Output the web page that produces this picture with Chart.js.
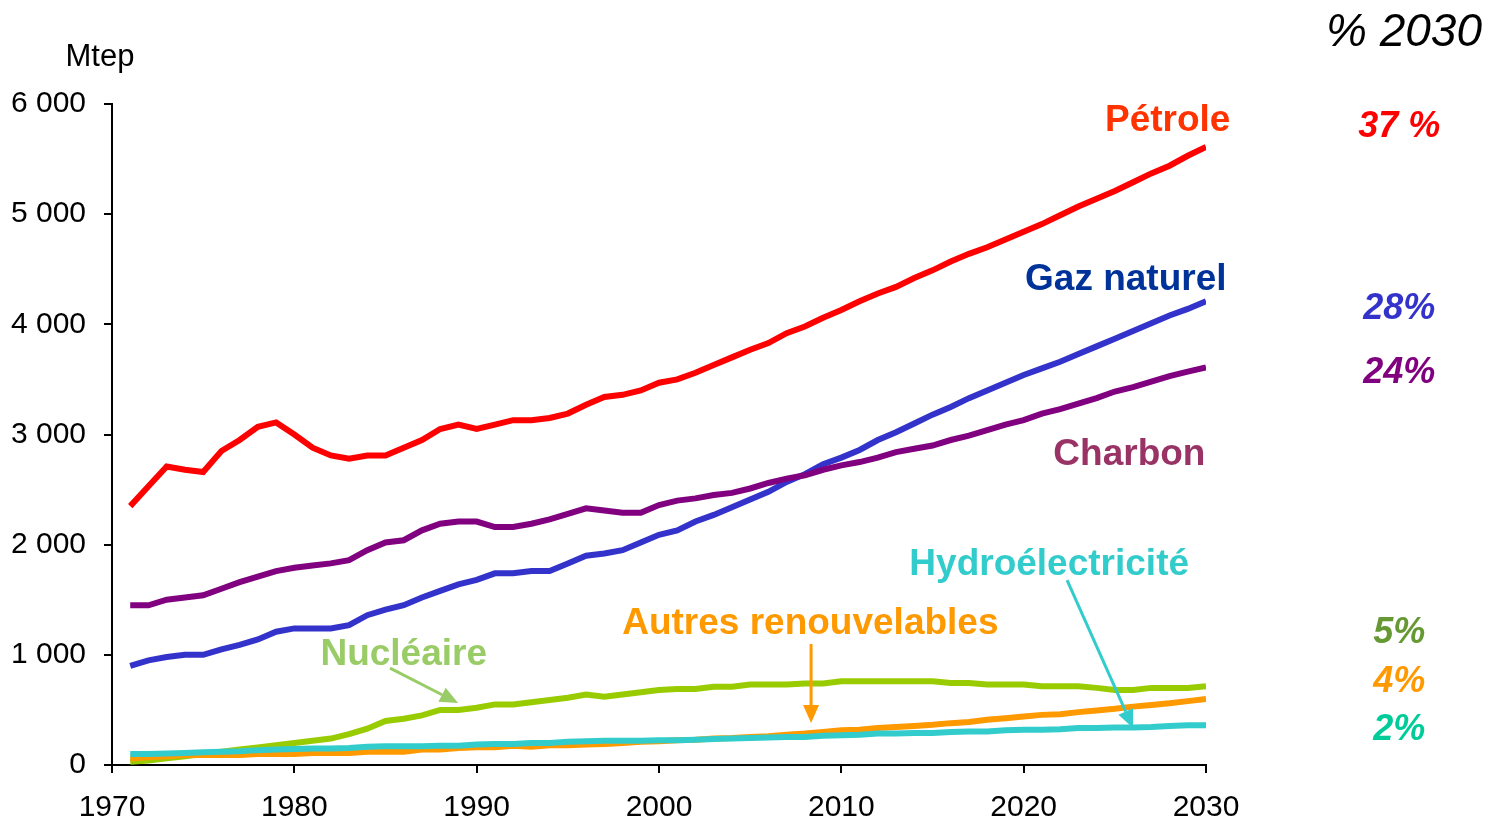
<!DOCTYPE html>
<html>
<head>
<meta charset="utf-8">
<script src="https://cdn.jsdelivr.net/npm/chart.js@4/dist/chart.umd.min.js"></script>
<style>
  body { margin: 0; background: #fff; }
  canvas { display: block; }
</style>
</head>
<body>
<canvas id="energyChart" width="1487" height="822"></canvas>
<script>
// Données (Mtep), 1971-2030
var years = [];
for (var yr = 1971; yr <= 2030; yr++) years.push(yr);

var petrole = [2350, 2530, 2710, 2680, 2660, 2850, 2950, 3070, 3110, 3000,
  2880, 2810, 2780, 2810, 2810, 2880, 2950, 3050, 3090, 3050,
  3090, 3130, 3130, 3150, 3190, 3270, 3340, 3360, 3400, 3470,
  3500, 3560, 3630, 3700, 3770, 3830, 3920, 3980, 4060, 4130,
  4210, 4280, 4340, 4420, 4490, 4570, 4640, 4700, 4770, 4840,
  4910, 4990, 5070, 5140, 5210, 5290, 5370, 5440, 5530, 5610];

var gaz = [900, 950, 980, 1000, 1000, 1050, 1090, 1140, 1210, 1240,
  1240, 1240, 1270, 1360, 1410, 1450, 1520, 1580, 1640, 1680,
  1740, 1740, 1760, 1760, 1830, 1900, 1920, 1950, 2020, 2090,
  2130, 2210, 2270, 2340, 2410, 2480, 2570, 2640, 2730, 2790,
  2860, 2950, 3020, 3100, 3180, 3250, 3330, 3400, 3470, 3540,
  3600, 3660, 3730, 3800, 3870, 3940, 4010, 4080, 4140, 4210];

var charbon = [1450, 1450, 1500, 1520, 1540, 1600, 1660, 1710, 1760, 1790,
  1810, 1830, 1860, 1950, 2020, 2040, 2130, 2190, 2210, 2210,
  2160, 2160, 2190, 2230, 2280, 2330, 2310, 2290, 2290, 2360,
  2400, 2420, 2450, 2470, 2510, 2560, 2600, 2630, 2680, 2720,
  2750, 2790, 2840, 2870, 2900, 2950, 2990, 3040, 3090, 3130,
  3190, 3230, 3280, 3330, 3390, 3430, 3480, 3530, 3570, 3610];

var nucleaire = [30, 40, 60, 80, 100, 120, 140, 160, 180, 200,
  220, 240, 280, 330, 400, 420, 450, 500, 500, 520,
  550, 550, 570, 590, 610, 640, 620, 640, 660, 680,
  690, 690, 710, 710, 730, 730, 730, 740, 740, 760,
  760, 760, 760, 760, 760, 745, 745, 730, 730, 730,
  715, 715, 715, 700, 680, 680, 700, 700, 700, 715];

var hydro = [100, 100, 105, 110, 115, 120, 125, 135, 140, 145,
  150, 150, 155, 165, 170, 170, 170, 175, 175, 185,
  190, 190, 200, 200, 210, 215, 220, 220, 220, 225,
  225, 230, 235, 240, 245, 250, 255, 255, 265, 270,
  275, 285, 285, 290, 290, 300, 305, 305, 315, 320,
  320, 325, 335, 335, 340, 340, 345, 355, 360, 360];

var autres = [60, 70, 80, 90, 90, 90, 90, 100, 100, 100,
  110, 110, 110, 120, 120, 120, 140, 140, 155, 160,
  160, 175, 165, 180, 180, 185, 190, 200, 210, 215,
  225, 230, 240, 245, 255, 260, 275, 285, 300, 315,
  320, 335, 345, 355, 365, 380, 390, 410, 425, 440,
  455, 460, 480, 495, 510, 530, 545, 560, 580, 600];

var xTicks = [1970, 1980, 1990, 2000, 2010, 2020, 2030];
var yTicks = [0, 1000, 2000, 3000, 4000, 5000, 6000];

// Parts en 2030
var parts = ['37 %', '28%', '24%', '5%', '4%', '2%'];
var partsY = [5790, 4140, 3560, 1200, 756, 320];

function serie(vals) {
  return vals.map(function(v, i) { return { x: years[i], y: v }; });
}

function fmtMtep(v) {
  if (v === 0) return '0';
  return (v / 1000) + ' 000';
}

// Étiquettes, pourcentages et flèches
var annotations = {
  id: 'annotations',
  afterDraw: function(chart) {
    var c = chart.ctx;
    var xs = chart.scales.x, ys = chart.scales.y;
    var px = function(v) { return xs.getPixelForValue(v); };
    var py = function(v) { return ys.getPixelForValue(v); };

    c.save();
    c.textAlign = 'center';
    c.textBaseline = 'middle';

    var labels = [
      ['Pétrole', 2027.9, 5850, '#FF3300'],
      ['Gaz naturel', 2025.6, 4400, '#003399'],
      ['Charbon', 2025.8, 2812, '#993366'],
      ['Hydroélectricité', 2021.4, 1814, '#33CCCC'],
      ['Autres renouvelables', 2008.3, 1278, '#FF9900'],
      ['Nucléaire', 1986.0, 997, '#99CC66']
    ];
    c.font = 'bold 37px "Liberation Sans", Arial, sans-serif';
    labels.forEach(function(l) {
      c.fillStyle = l[3];
      c.fillText(l[0], px(l[1]), py(l[2]));
    });

    var partColors = ['#FF0000', '#3333CC', '#800080', '#669933', '#FF9900', '#00CC99'];
    c.font = 'italic bold 36px "Liberation Sans", Arial, sans-serif';
    parts.forEach(function(p, i) {
      c.fillStyle = partColors[i];
      c.fillText(p, px(2040.6), py(partsY[i]));
    });

    c.fillStyle = '#000';
    c.font = 'italic 46px "Liberation Sans", Arial, sans-serif';
    c.fillText('% 2030', 1404, 33);
    c.font = '31px "Liberation Sans", Arial, sans-serif';
    c.fillText('Mtep', 100, 57);

    function arrow(x1, y1, x2, y2, color) {
      var a = px(x1), b = py(y1), d = px(x2), e = py(y2);
      var ang = Math.atan2(e - b, d - a);
      var head = 18, half = 8;
      var bx = d - head * Math.cos(ang), by = e - head * Math.sin(ang);
      c.strokeStyle = color;
      c.fillStyle = color;
      c.lineWidth = 3;
      c.beginPath();
      c.moveTo(a, b);
      c.lineTo(bx, by);
      c.stroke();
      c.beginPath();
      c.moveTo(d, e);
      c.lineTo(bx + half * Math.sin(ang), by - half * Math.cos(ang));
      c.lineTo(bx - half * Math.sin(ang), by + half * Math.cos(ang));
      c.closePath();
      c.fill();
    }
    arrow(1985.25, 880, 1988.98, 563, '#99CC66');
    arrow(2008.34, 1098, 2008.34, 381, '#FF9900');
    arrow(2022.38, 1679, 2026.0, 336, '#33CCCC');
    c.restore();
  }
};

function ds(label, vals, color) {
  return {
    label: label,
    data: serie(vals),
    borderColor: color,
    backgroundColor: color,
    borderWidth: 6,
    pointRadius: 0,
    tension: 0,
    fill: false
  };
}

var ctx = document.getElementById('energyChart').getContext('2d');
var chart = new Chart(ctx, {
  type: 'line',
  data: {
    datasets: [
      ds('Hydroélectricité', hydro, '#33CCCC'),
      ds('Autres renouvelables', autres, '#FF9900'),
      ds('Nucléaire', nucleaire, '#99CC00'),
      ds('Charbon', charbon, '#800080'),
      ds('Gaz naturel', gaz, '#3333CC'),
      ds('Pétrole', petrole, '#FF0000')
    ]
  },
  options: {
    responsive: false,
    animation: false,
    layout: { padding: { left: 0, right: 281, top: 104, bottom: 0 } },
    plugins: {
      legend: { display: false },
      tooltip: { enabled: false }
    },
    scales: {
      x: {
        type: 'linear',
        min: 1970,
        max: 2030,
        afterBuildTicks: function(s) { s.ticks = xTicks.map(function(v) { return { value: v }; }); },
        afterFit: function(s) { s.height = 57; },
        grid: { drawOnChartArea: false, color: '#000', tickLength: 8, lineWidth: 2 },
        border: { color: '#000', width: 2 },
        ticks: {
          color: '#000',
          padding: 17,
          maxRotation: 0,
          font: { family: '"Liberation Sans", Arial, sans-serif', size: 30 },
          callback: function(v) { return String(v); }
        }
      },
      y: {
        min: 0,
        max: 6000,
        afterBuildTicks: function(s) { s.ticks = yTicks.map(function(v) { return { value: v }; }); },
        afterFit: function(s) { s.width = 112; },
        grid: { drawOnChartArea: false, color: '#000', tickLength: 8, lineWidth: 2 },
        border: { color: '#000', width: 2 },
        ticks: {
          color: '#000',
          padding: 18,
          font: { family: '"Liberation Sans", Arial, sans-serif', size: 30 },
          callback: function(v) { return fmtMtep(v); }
        }
      }
    }
  },
  plugins: [annotations]
});
</script>
</body>
</html>
